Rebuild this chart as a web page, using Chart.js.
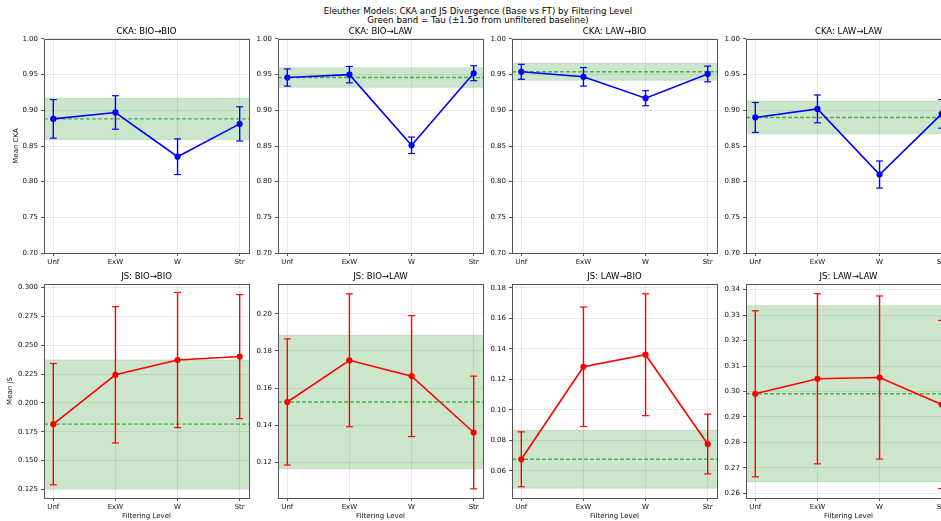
<!DOCTYPE html>
<html>
<head>
<meta charset="utf-8">
<script src="https://cdn.jsdelivr.net/npm/chart.js@4.4.1/dist/chart.umd.min.js"></script>
<style>
  html, body { margin: 0; padding: 0; width: 941px; height: 521px; overflow: hidden; background: #fff; }
  #fig { position: relative; width: 941px; height: 521px; overflow: hidden; }
  #fig canvas { position: absolute; }
  #suptitle {
    position: absolute; left: 0; top: 6.5px; width: 956px; text-align: center;
    font-family: "DejaVu Sans", sans-serif; font-size: 8.7px; line-height: 9.6px; color: #000;
  }
</style>
</head>
<body>
<div id="fig">
  <div id="suptitle">Eleuther Models: CKA and JS Divergence (Base vs FT) by Filtering Level<br>Green band = Tau (±1.5σ from unfiltered baseline)</div>
</div>
<script>
// ---- data -------------------------------------------------------------
const levels = ['Unf', 'ExW', 'W', 'Str'];

// CKA (mean ± error) per filtering level
const ckaBioBio    = [0.888, 0.897, 0.835, 0.881];
const ckaBioBioErr = [0.027, 0.0235, 0.025, 0.024];
const ckaBioLaw    = [0.946, 0.950, 0.851, 0.952];
const ckaBioLawErr = [0.012, 0.0115, 0.0115, 0.0105];
const ckaLawBio    = [0.954, 0.947, 0.917, 0.951];
const ckaLawBioErr = [0.0105, 0.013, 0.0105, 0.011];
const ckaLawLaw    = [0.890, 0.902, 0.810, 0.895];
const ckaLawLawErr = [0.021, 0.0195, 0.019, 0.020];

// JS divergence (mean ± error) per filtering level
const jsBioBio    = [0.1816, 0.2243, 0.2371, 0.2401];
const jsBioBioErr = [0.0525, 0.059, 0.0585, 0.0537];
const jsBioLaw    = [0.1526, 0.175, 0.1665, 0.1362];
const jsBioLawErr = [0.0339, 0.0357, 0.0325, 0.0303];
const jsLawBio    = [0.0676, 0.1283, 0.1362, 0.0776];
const jsLawBioErr = [0.018, 0.0392, 0.040, 0.0196];
const jsLawLaw    = [0.2991, 0.305, 0.3055, 0.2949];
const jsLawLawErr = [0.0326, 0.0334, 0.032, 0.033];

// Tau band half-widths (1.5 sigma around the unfiltered value)
const ckaTauBand = [0.029, 0.0138, 0.012, 0.023];
const jsTauBand  = [0.0556, 0.0359, 0.019, 0.0346];

// y-axis tick labels
const ckaTicks      = ['0.70', '0.75', '0.80', '0.85', '0.90', '0.95', '1.00'];
const jsBioBioTicks = ['0.125', '0.150', '0.175', '0.200', '0.225', '0.250', '0.275', '0.300'];
const jsBioLawTicks = ['0.12', '0.14', '0.16', '0.18', '0.20'];
const jsLawBioTicks = ['0.06', '0.08', '0.10', '0.12', '0.14', '0.16', '0.18'];
const jsLawLawTicks = ['0.26', '0.27', '0.28', '0.29', '0.30', '0.31', '0.32', '0.33', '0.34'];

// y-axis limits
const ckaRange      = [0.70, 1.00];
const jsBioBioRange = [0.1177, 0.3029];
const jsBioLawRange = [0.1010, 0.2160];
const jsLawBioRange = [0.0422, 0.1826];
const jsLawLawRange = [0.2582, 0.3422];

// ---- layout -----------------------------------------------------------
const FONT = '"DejaVu Sans", sans-serif';
const X_MIN = -0.15, X_MAX = 3.15;
const AXIS_W = 44;        // y-axis box width
const TITLE_H = 30;       // space above each plot area
const XAXIS_H = 24;       // x-axis box height
const PLOT_W = 205, PLOT_H = 214, PAD_R = 14;
const COL_LEFT = [44, 278, 512, 746];
const ROW_TOP = [39, 284];
const SPINE = '#555';
const GRID = 'rgba(0,0,0,0.085)';
const BLUE = '#0000ff', RED = '#ff0000';

const panels = [
  { title: 'CKA: BIO→BIO', mean: ckaBioBio, err: ckaBioBioErr, band: ckaTauBand[0], ticks: ckaTicks, range: ckaRange, color: BLUE, ylabel: 'Mean CKA', ylabelPad: 11.5 },
  { title: 'CKA: BIO→LAW', mean: ckaBioLaw, err: ckaBioLawErr, band: ckaTauBand[1], ticks: ckaTicks, range: ckaRange, color: BLUE },
  { title: 'CKA: LAW→BIO', mean: ckaLawBio, err: ckaLawBioErr, band: ckaTauBand[2], ticks: ckaTicks, range: ckaRange, color: BLUE },
  { title: 'CKA: LAW→LAW', mean: ckaLawLaw, err: ckaLawLawErr, band: ckaTauBand[3], ticks: ckaTicks, range: ckaRange, color: BLUE },
  { title: 'JS: BIO→BIO', mean: jsBioBio, err: jsBioBioErr, band: jsTauBand[0], ticks: jsBioBioTicks, range: jsBioBioRange, color: RED, ylabel: 'Mean JS', ylabelPad: 6 },
  { title: 'JS: BIO→LAW', mean: jsBioLaw, err: jsBioLawErr, band: jsTauBand[1], ticks: jsBioLawTicks, range: jsBioLawRange, color: RED },
  { title: 'JS: LAW→BIO', mean: jsLawBio, err: jsLawBioErr, band: jsTauBand[2], ticks: jsLawBioTicks, range: jsLawBioRange, color: RED },
  { title: 'JS: LAW→LAW', mean: jsLawLaw, err: jsLawLawErr, band: jsTauBand[3], ticks: jsLawLawTicks, range: jsLawLawRange, color: RED }
];

// Full rectangular frame around the plot area, drawn on top like axis spines
const framePlugin = {
  id: 'frame',
  afterDatasetsDraw(chart) {
    const { ctx, chartArea: a } = chart;
    const l = Math.round(a.left), t = Math.round(a.top), r = Math.round(a.right), b = Math.round(a.bottom);
    ctx.save();
    ctx.strokeStyle = SPINE;
    ctx.lineWidth = 1;
    ctx.strokeRect(l + 0.5, t + 0.5, r - l, b - t);
    ctx.restore();
  }
};

Chart.defaults.font.family = FONT;

const fig = document.getElementById('fig');

panels.forEach((p, idx) => {
  const col = idx % 4, row = Math.floor(idx / 4);
  const cv = document.createElement('canvas');
  cv.width = AXIS_W + PLOT_W + PAD_R;
  cv.height = TITLE_H + PLOT_H + XAXIS_H;
  cv.style.left = (COL_LEFT[col] - AXIS_W) + 'px';
  cv.style.top = (ROW_TOP[row] - TITLE_H) + 'px';
  fig.appendChild(cv);

  const tau = p.mean[0];
  const pts = (arr) => arr.map(([x, y]) => ({ x, y }));

  const datasets = [
    { // mean values
      data: p.mean.map((v, i) => ({ x: i, y: v })),
      borderColor: p.color, backgroundColor: p.color, borderWidth: 1.6,
      pointRadius: 3.1, pointBorderWidth: 0, pointBackgroundColor: p.color, order: 0
    },
    // error bars with caps
    ...p.mean.map((v, i) => ({
      data: pts([[i, v - p.err[i]], [i, v + p.err[i]]]),
      borderColor: p.color, borderWidth: 1.4,
      pointStyle: 'line', pointRadius: 3.5, pointBorderColor: p.color, pointBorderWidth: 1.2,
      order: 1
    })),
    { // tau (unfiltered baseline)
      data: pts([[X_MIN, tau], [X_MAX, tau]]),
      borderColor: 'rgba(0,140,0,0.62)', borderWidth: 1.4, borderDash: [4, 2],
      pointRadius: 0, order: 2
    },
    { // band upper edge
      data: pts([[X_MIN, tau + p.band], [X_MAX, tau + p.band]]),
      borderColor: 'rgba(0,128,0,0.15)', borderWidth: 1, pointRadius: 0, order: 3
    },
    { // band lower edge, filled up to the upper edge
      data: pts([[X_MIN, tau - p.band], [X_MAX, tau - p.band]]),
      borderColor: 'rgba(0,128,0,0.15)', borderWidth: 1, pointRadius: 0,
      fill: '-1', backgroundColor: 'rgba(0,128,0,0.2)', order: 3
    }
  ];

  new Chart(cv, {
    type: 'line',
    data: { datasets },
    options: {
      responsive: false,
      devicePixelRatio: 1,
      animation: false,
      events: [],
      layout: { padding: { left: 0, right: PAD_R, top: 0, bottom: 0 } },
      plugins: {
        legend: { display: false },
        tooltip: { enabled: false },
        title: {
          display: true, text: p.title, fullSize: false, color: '#000',
          font: { family: FONT, size: 8.5, weight: 'normal' },
          padding: { top: 17.4, bottom: 2.4 }
        }
      },
      scales: {
        x: {
          type: 'linear', min: X_MIN, max: X_MAX,
          afterBuildTicks: (s) => { s.ticks = levels.map((_, i) => ({ value: i })); },
          afterFit: (s) => { s.height = XAXIS_H; },
          ticks: {
            callback: (v) => levels[v], color: '#111', padding: 2,
            font: { family: FONT, size: 7 }, maxRotation: 0, autoSkip: false
          },
          grid: { color: GRID, tickColor: SPINE, tickLength: 3, drawTicks: true },
          border: { display: false },
          title: {
            display: row === 1, text: 'Filtering Level', color: '#111',
            font: { family: FONT, size: 7 }, padding: { top: 0, bottom: 2 }
          }
        },
        y: {
          min: p.range[0], max: p.range[1],
          afterBuildTicks: (s) => { s.ticks = p.ticks.map((t) => ({ value: parseFloat(t) })); },
          afterFit: (s) => { s.width = AXIS_W; },
          ticks: {
            callback: (v, i) => p.ticks[i], color: '#111', padding: 3,
            font: { family: FONT, size: 7 }
          },
          grid: { color: GRID, tickColor: SPINE, tickLength: 3, drawTicks: true },
          border: { display: false },
          title: {
            display: !!p.ylabel, text: p.ylabel || '', color: '#111',
            font: { family: FONT, size: 7 }, padding: { top: p.ylabelPad || 0, bottom: 0 }
          }
        }
      }
    },
    plugins: [framePlugin]
  });
});
</script>
</body>
</html>
